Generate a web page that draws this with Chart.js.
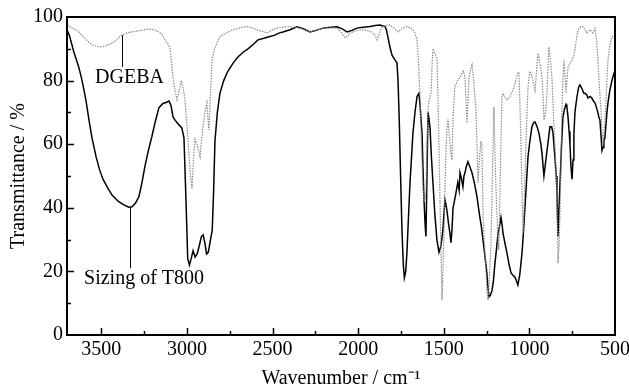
<!DOCTYPE html>
<html><head><meta charset="utf-8">
<script src="https://cdn.jsdelivr.net/npm/chart.js@4"></script>
<style>html,body{margin:0;padding:0;background:#fff}#wrap{width:629px;height:391px}</style>
</head><body><div id="wrap"><canvas id="c" width="629" height="391"></canvas></div>
<script>
// ---- data ----
const xTicks = [3500, 3000, 2500, 2000, 1500, 1000, 500];
const yTicks = [0, 20, 40, 60, 80, 100];
const seriesNames = ['DGEBA', 'Sizing of T800'];

const t800Wavenumber = [3700,3685,3660,3630,3612,3590,3570,3554,3530,3510,3490,3465,3437,3400,3370,3340,3320,3300,3280,3262,3245,3225,3204,3185,3163,3140,3118,3104,3092,3081,3068,3058,3045,3030,3017,3005,2995,2985,2975,2964,2952,2940,2928,2915,2905,2895,2885,2875,2862,2852,2844,2836,2822,2807,2785,2760,2730,2702,2670,2643,2610,2585,2550,2526,2486,2460,2439,2398,2357,2320,2281,2245,2205,2160,2123,2090,2065,2035,2007,1970,1931,1900,1872,1843,1835,1826,1814,1802,1785,1773,1767,1760,1752,1744,1736,1730,1722,1715,1706,1697,1688,1680,1668,1656,1645,1638,1627,1621,1615,1608,1604,1598,1592,1586,1580,1572,1563,1552,1540,1528,1516,1505,1499,1493,1487,1481,1472,1464,1458,1452,1446,1438,1429,1418,1410,1405,1396,1388,1382,1376,1368,1359,1348,1335,1320,1306,1297,1289,1280,1271,1260,1248,1242,1236,1228,1218,1210,1201,1192,1183,1175,1166,1160,1154,1143,1131,1118,1107,1096,1084,1075,1067,1056,1043,1035,1026,1017,1008,997,985,975,967,955,944,933,926,915,906,897,888,880,870,862,851,843,839,833,827,821,812,804,795,786,781,775,768,763,757,751,745,740,734,722,712,705,693,682,675,664,658,646,635,625,617,608,600,594,588,582,576,570,565,559,553,547,541,530,518,508,500];
const t800Transmittance = [96,94,89,84,80,74,67,62,56,52,49,46.5,44,42,41,40.2,40.3,41.5,43.5,48,53,58,62.5,67,71.5,72.8,73.2,73.6,72,68.6,67.5,66.8,66,65.2,62,42,24,22,24,26.5,24.5,25.5,28,31,31.5,29,25.5,26,30,33,45,61,70,76,80,83,85.5,87.4,89,90,91.5,92.8,93.3,93.7,94.3,95,95.3,96,96.9,96.3,95.3,95.8,96.5,96.8,96.9,96.2,95.3,95.8,96.5,96.8,97,97.3,97.5,97,96,93.7,90.5,88,86.5,85.5,80,68,50,33,22,18,20,26,37,48,56,63.5,70,75,76,72,63.5,52,42,34,31,50,70,68,65,56,47.8,38,30,26,28,33,38,42.5,41,39,35,32,29,33,40,42,44.6,48,45.5,51,49,46.6,50,51,53,54.5,53,51,47.5,43.5,40,37,34,30,25,19.5,15,12,12.5,14,17,22.6,27,32,34,37,35,32,29,25.8,22,19.5,18.8,18.2,17,15.7,19,25.8,32,40,48,56,61,65.5,66.8,67,65.5,63.5,60,57,50,54,58,62,65.5,65.5,63.5,56,50,45,31,40,47.8,60,68.5,71,72.5,71.7,69,64,60,53,49,55,63,70,75,78,78.6,77.5,76,76,75.5,74.5,75,74.5,73.5,73,71.5,70,68.5,67.6,63,58,59,61,62,66,70,73,77,80,82,83];

const dgebaWavenumber = [3700,3685,3671,3650,3630,3600,3572,3550,3530,3510,3496,3478,3450,3420,3400,3379,3350,3320,3270,3221,3190,3163,3145,3128,3110,3099,3090,3081,3070,3058,3048,3040,3032,3023,3011,3000,2993,2982,2970,2962,2953,2947,2941,2932,2923,2915,2906,2895,2883,2877,2871,2862,2853,2838,2824,2807,2790,2766,2731,2690,2649,2620,2591,2560,2532,2500,2474,2440,2398,2340,2281,2240,2205,2160,2123,2095,2077,2060,2048,2010,1972,1930,1905,1890,1878,1861,1840,1814,1790,1767,1740,1715,1695,1680,1668,1656,1648,1639,1633,1627,1621,1615,1608,1604,1598,1592,1585,1574,1568,1563,1552,1540,1534,1528,1522,1516,1510,1505,1499,1493,1487,1481,1475,1470,1464,1458,1452,1446,1440,1435,1420,1405,1394,1385,1376,1370,1364,1358,1353,1345,1335,1325,1312,1306,1300,1292,1283,1277,1271,1262,1253,1248,1242,1236,1230,1224,1216,1207,1200,1194,1189,1183,1178,1170,1160,1154,1145,1131,1120,1113,1105,1096,1084,1072,1061,1055,1049,1043,1037,1032,1026,1017,1008,997,988,979,967,958,950,940,926,920,915,906,897,892,886,878,868,862,856,848,839,833,827,821,815,810,804,798,792,786,781,775,763,751,740,734,725,716,700,687,675,664,655,646,638,629,622,617,608,600,591,582,576,570,564,559,553,547,541,530,518,500];
const dgebaTransmittance = [97.5,97,96.5,96,95.3,93.5,92,91.2,90.8,90.6,90.6,90.8,91.5,92.3,93.5,94.3,95,95.3,95.8,96.2,96,95.3,94.5,92.8,91.5,90.3,86,81,77,74,76,78,80,78,74,66,61,52,46,55,62,60.5,60,58,56,61,65.5,70,73,68,64.5,76,86.5,90,91.8,93.7,94.5,95,96,96.6,97,96.6,96,95.5,95,96,96.5,96.8,97,96.5,95.3,95.8,96.5,96.6,96.5,95,93.4,94,95,95.7,96,95.5,94.5,92.8,94.5,97,97.3,97.5,96.5,95.3,96.5,97,96.6,96,95,92.8,86,76,65,55,46,42,43,45,58,70.7,74,76,85,90,88.5,87,75,60,42,26.7,11,20,32,45,58,65,68,64,61,57,55,68,74,78,80,81,82.4,83,81,74,66.7,74,81,83,85,80,70.7,60,47.8,55,61,59,39,28,19.5,14,11,15,22,29,50,71.7,55,45,37,30,26.7,50,75,76,75,74,74.5,75,76,77,79,82,82.7,72,60,45,32,38,50,65,78,83,82,80,77,83,88.6,86,81,75,67.6,70,76,84,90.6,87,80.6,73,65.5,56,44.6,22.6,28,39,55,70.7,80,86.5,82,76,80,84,85.5,86.5,88,89.6,93,96,97,97,96,95,95.5,96,95.5,95,96,96.5,93,86.5,78,70.7,64,61,64,67,72.7,80,86.5,91,93.7,94.3];

// ---- chart ----
const SERIF = "'Liberation Serif','Times New Roman',serif";
const toPoints = (xs, ys) => xs.map((x, i) => ({x: x, y: ys[i]}));

const framePlugin = {
  id: 'frameTicks',
  afterDatasetsDraw(chart) {
    const {ctx, chartArea: a, scales: {x, y}} = chart;
    ctx.save();
    ctx.strokeStyle = '#000';
    ctx.lineWidth = 2;
    ctx.strokeRect(a.left, a.top, a.right - a.left, a.bottom - a.top);
    ctx.lineWidth = 1.5;
    ctx.beginPath();
    for (let v = 750; v <= 3500; v += 250) {
      const px = Math.round(x.getPixelForValue(v)) + 0.5;
      const len = (v % 500 === 0) ? 7 : 4;
      ctx.moveTo(px, a.bottom); ctx.lineTo(px, a.bottom - len);
    }
    for (let v = 10; v < 100; v += 10) {
      const py = Math.round(y.getPixelForValue(v)) + 0.5;
      const len = (v % 20 === 0) ? 7 : 4;
      ctx.moveTo(a.left, py); ctx.lineTo(a.left + len, py);
    }
    ctx.stroke();

    // annotations with leader lines
    const notes = chart.options.plugins.frameTicks.notes;
    ctx.lineWidth = 1;
    ctx.fillStyle = '#000';
    ctx.font = '20px ' + SERIF;
    ctx.textAlign = 'center';
    ctx.textBaseline = 'alphabetic';
    notes.forEach(n => {
      const lx = Math.round(x.getPixelForValue(n.lineX)) + 0.5;
      ctx.beginPath();
      ctx.moveTo(lx, y.getPixelForValue(n.lineFrom));
      ctx.lineTo(lx, y.getPixelForValue(n.lineTo));
      ctx.stroke();
      ctx.fillText(n.text, x.getPixelForValue(n.textX), y.getPixelForValue(n.textY));
    });
    ctx.restore();
  }
};

new Chart(document.getElementById('c'), {
  type: 'scatter',
  data: {
    datasets: [
      {
        label: seriesNames[0],
        data: toPoints(dgebaWavenumber, dgebaTransmittance),
        showLine: true,
        borderColor: '#8a8a8a',
        borderWidth: 1.2,
        borderDash: [1.5, 1.2],
        pointRadius: 0,
        tension: 0
      },
      {
        label: seriesNames[1],
        data: toPoints(t800Wavenumber, t800Transmittance),
        showLine: true,
        borderColor: '#000',
        borderWidth: 1.5,
        pointRadius: 0,
        tension: 0
      }
    ]
  },
  options: {
    responsive: false,
    animation: false,
    devicePixelRatio: 1,
    layout: {padding: {top: 17, right: 14, left: 0, bottom: 0}},
    plugins: {
      legend: {display: false},
      tooltip: {enabled: false},
      frameTicks: {
        notes: [
          {text: seriesNames[0], lineX: 3379, lineFrom: 94.3, lineTo: 84.3, textX: 3335, textY: 79.3},
          {text: seriesNames[1], lineX: 3332, lineFrom: 40.2, lineTo: 21, textX: 3250, textY: 16}
        ]
      }
    },
    scales: {
      x: {
        type: 'linear', reverse: true, min: 500, max: 3700,
        afterBuildTicks: s => { s.ticks = xTicks.map(v => ({value: v})); },
        afterFit: s => { s.height = 56; s.paddingLeft = 0; s.paddingRight = 0; },
        grid: {display: false, drawTicks: false},
        border: {display: false},
        ticks: {color: '#000', font: {family: SERIF, size: 20}, padding: 3, maxRotation: 0, callback: v => String(v)},
        title: {display: true, text: 'Wavenumber / cm\u207B\u00B9', color: '#000', font: {family: SERIF, size: 20}, padding: {top: 0, bottom: 0}}
      },
      y: {
        type: 'linear', min: 0, max: 100,
        afterBuildTicks: s => { s.ticks = yTicks.map(v => ({value: v})); },
        afterFit: s => { s.width = 67; s.paddingTop = 0; s.paddingBottom = 0; },
        grid: {display: false, drawTicks: false},
        border: {display: false},
        ticks: {color: '#000', font: {family: SERIF, size: 20}, padding: 4, callback: v => String(v)},
        title: {display: true, text: 'Transmittance / %', color: '#000', font: {family: SERIF, size: 20}, padding: {top: 7, bottom: 0}}
      }
    }
  },
  plugins: [framePlugin]
});
</script>
</body></html>
